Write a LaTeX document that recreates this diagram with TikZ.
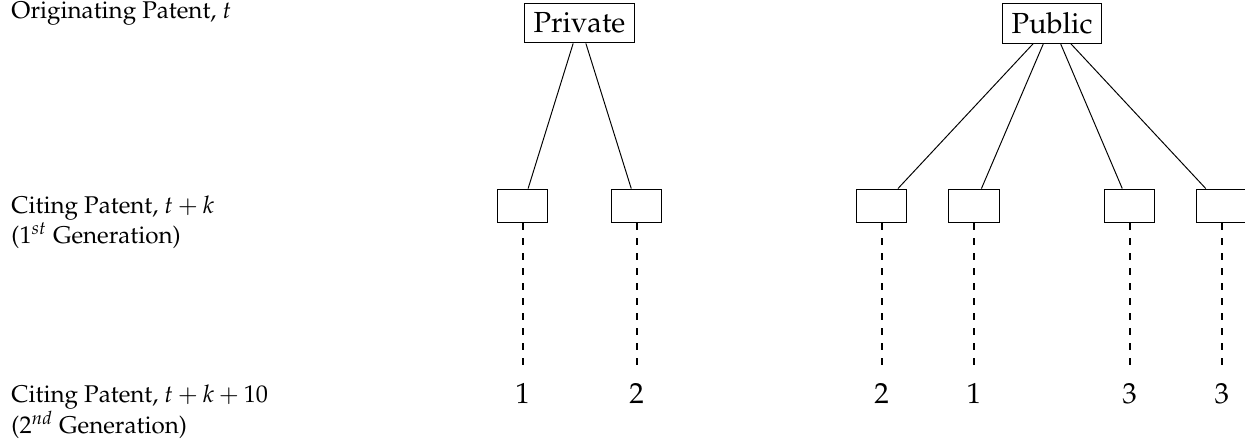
\documentclass[tikz,border=0pt]{standalone}
\usepackage[T1]{fontenc}
\usepackage{mathpazo}
\begin{document}
\begin{tikzpicture}[x=0.4133pt,y=-0.4133pt,
  parent/.style={draw, line width=0.4pt, font=\fontsize{12}{14.4}\selectfont, inner xsep=3.8pt, inner ysep=0pt, minimum height=16.5pt},
  child/.style={draw, line width=0.4pt, minimum width=20.7pt, minimum height=14pt, inner sep=0pt},
  num/.style={font=\fontsize{12}{14.4}\selectfont, anchor=base, inner sep=4pt},
  lab/.style={font=\fontsize{10}{12.6}\selectfont, anchor=base west, inner sep=0pt},
  tie/.style={line width=0.4pt},
  gen/.style={line width=0.8pt, dash pattern=on 2.8pt off 3.4pt}]
\useasboundingbox (0,0) rectangle (1245,444);

% row labels
\node[lab] (l0) at (11,18) {Originating Patent, $t$};
\node[lab] (l1) at (11,213) {\begin{tabular}[t]{@{}l@{}}Citing Patent, $t+k$\\($1^{st}$ Generation)\end{tabular}};
\node[lab] (l2) at (11,402) {\begin{tabular}[t]{@{}l@{}}Citing Patent, $t+k+10$\\($2^{nd}$ Generation)\end{tabular}};

% originating patents
\node[parent] (priv) at (579.5,23) {Private};
\node[parent] (pub) at (1052,23.5) {Public};

% first generation
\node[child] (c1) at (522.7,206) {};
\node[child] (c2) at (636.7,206) {};
\node[child] (d1) at (881.7,206) {};
\node[child] (d2) at (974,206) {};
\node[child] (d3) at (1129.7,206) {};
\node[child] (d4) at (1222,206) {};

% second generation counts
\node[num] (n1) at (522.7,403) {1};
\node[num] (n2) at (636.7,403) {2};
\node[num] (m1) at (881.7,403) {2};
\node[num] (m2) at (974,403) {1};
\node[num] (m3) at (1129.7,403) {3};
\node[num] (m4) at (1222,403) {3};

% citation links
\draw[tie] (priv) -- (c1);
\draw[tie] (priv) -- (c2);
\draw[tie] (pub) -- (d1);
\draw[tie] (pub) -- (d2);
\draw[tie] (pub) -- (d3);
\draw[tie] (pub) -- (d4);

\draw[gen] (c1) -- (n1);
\draw[gen] (c2) -- (n2);
\draw[gen] (d1) -- (m1);
\draw[gen] (d2) -- (m2);
\draw[gen] (d3) -- (m3);
\draw[gen] (d4) -- (m4);
\end{tikzpicture}
\end{document}
